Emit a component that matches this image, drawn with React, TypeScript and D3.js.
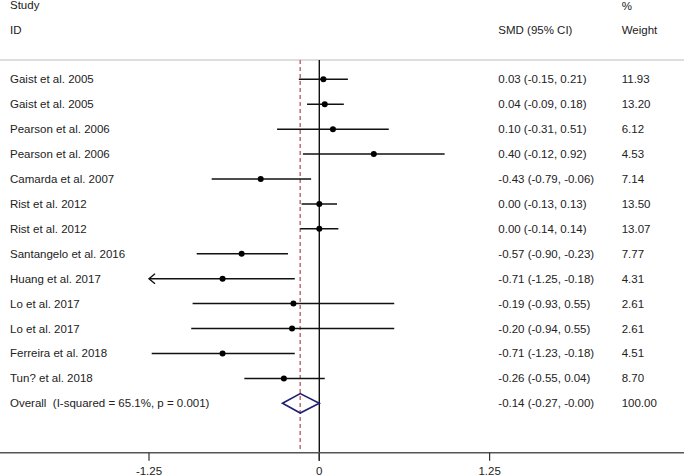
import * as d3 from 'd3';

const studies = [
    'Gaist et al. 2005',
    'Gaist et al. 2005',
    'Pearson et al. 2006',
    'Pearson et al. 2006',
    'Camarda et al. 2007',
    'Rist et al. 2012',
    'Rist et al. 2012',
    'Santangelo et al. 2016',
    'Huang et al. 2017',
    'Lo et al. 2017',
    'Lo et al. 2017',
    'Ferreira et al. 2018',
    'Tun? et al. 2018',
];
const smd = [0.03, 0.04, 0.1, 0.4, -0.43, 0.0, 0.0, -0.57, -0.71, -0.19, -0.2, -0.71, -0.26];
const lower = [-0.15, -0.09, -0.31, -0.12, -0.79, -0.13, -0.14, -0.9, -1.25, -0.93, -0.94, -1.23, -0.55];
const upper = [0.21, 0.18, 0.51, 0.92, -0.06, 0.13, 0.14, -0.23, -0.18, 0.55, 0.55, -0.18, 0.04];
const weights = [11.93, 13.2, 6.12, 4.53, 7.14, 13.5, 13.07, 7.77, 4.31, 2.61, 2.61, 4.51, 8.7];

const overallLabel = 'Overall  (I-squared = 65.1%, p = 0.001)';
const overall = { est: -0.14, lo: -0.27, hi: -0.0, weight: 100 };
const xTicks = [-1.25, 0, 1.25];

const W = 685;
const H = 476;
const font = 'Liberation Sans, Arial, sans-serif';

// plain hyphen minus, and keep the "-0.00" upper bound of the pooled estimate
const locale = d3.formatLocale({ decimal: '.', thousands: ',', grouping: [3], currency: ['', ''], minus: '-' });
const f2 = locale.format('.2f');
const fmt = (v: number) => (Object.is(v, -0) ? '-0.00' : f2(v));

export default function App() {
    const x = d3.scaleLinear().domain([-1.25, 1.25]).range([149, 489.6]);
    const rows = d3.range(studies.length + 1);
    const y = d3.scalePoint<number>().domain(rows).range([79.3, 403.3]);
    const axisY = 452.7;
    const topY = 60;
    const xMin = x.domain()[0];

    const ciText = (e: number, l: number, u: number) => `${fmt(e)} (${fmt(l)}, ${fmt(u)})`;
    const oy = y(studies.length)!;

    return (
        <svg
            width={W}
            height={H}
            style={{ position: 'absolute', left: 0, top: 0, background: '#fff' }}
            fontFamily={font}
            fontSize={11.5}
        >
            {/* headers */}
            <g fill="#222">
                <text x={10} y={5} dy="0.35em">Study</text>
                <text x={10} y={30} dy="0.35em">ID</text>
                <text x={498.3} y={30} dy="0.35em">SMD (95% CI)</text>
                <text x={621.7} y={6} dy="0.35em">%</text>
                <text x={621.7} y={30} dy="0.35em">Weight</text>
            </g>
            <line x1={0} x2={684} y1={topY} y2={topY} stroke="#bbb" strokeWidth={1.2} />

            {/* reference lines */}
            <line x1={x(0)} x2={x(0)} y1={topY} y2={axisY + 8} stroke="#111" strokeWidth={1.4} />
            <line
                x1={x(overall.est)}
                x2={x(overall.est)}
                y1={topY}
                y2={axisY}
                stroke="#bf7479"
                strokeWidth={1.6}
                strokeDasharray="4,3"
            />

            {/* studies */}
            {studies.map((s, i) => {
                const yy = y(i)!;
                const clipped = lower[i] <= xMin;
                const x1 = x(Math.max(lower[i], xMin));
                return (
                    <g key={i}>
                        <line x1={x1} x2={x(upper[i])} y1={yy} y2={yy} stroke="#111" strokeWidth={1.5} />
                        {clipped && (
                            <path
                                d={`M${x1 + 6},${yy - 5} L${x1},${yy} L${x1 + 6},${yy + 5}`}
                                fill="none"
                                stroke="#111"
                                strokeWidth={1.4}
                            />
                        )}
                        <circle cx={x(smd[i])} cy={yy} r={3} fill="#000" />
                        <text x={10} y={yy} dy="0.35em" fill="#222">{s}</text>
                        <text x={498.3} y={yy} dy="0.35em" fill="#222">{ciText(smd[i], lower[i], upper[i])}</text>
                        <text x={621.7} y={yy} dy="0.35em" fill="#222">{f2(weights[i])}</text>
                    </g>
                );
            })}

            {/* overall */}
            <path
                d={`M${x(overall.lo)},${oy} L${x(overall.est)},${oy - 9.7} L${x(overall.hi)},${oy} L${x(overall.est)},${oy + 9.7} Z`}
                fill="none"
                stroke="#1f1f73"
                strokeWidth={1.6}
            />
            <text x={10} y={oy} dy="0.35em" fill="#222" style={{ whiteSpace: 'pre' }}>{overallLabel}</text>
            <text x={498.3} y={oy} dy="0.35em" fill="#222">{ciText(overall.est, overall.lo, overall.hi)}</text>
            <text x={621.7} y={oy} dy="0.35em" fill="#222">{f2(overall.weight)}</text>

            {/* axis */}
            <line x1={0} x2={684} y1={axisY} y2={axisY} stroke="#555" strokeWidth={1.4} />
            {xTicks.map((t) => (
                <g key={t}>
                    <line x1={x(t)} x2={x(t)} y1={axisY} y2={axisY + 8} stroke="#333" strokeWidth={1.2} />
                    <text x={x(t)} y={axisY + 18} dy="0.35em" textAnchor="middle" fill="#222">
                        {t === 0 ? '0' : f2(t)}
                    </text>
                </g>
            ))}
        </svg>
    );
}
